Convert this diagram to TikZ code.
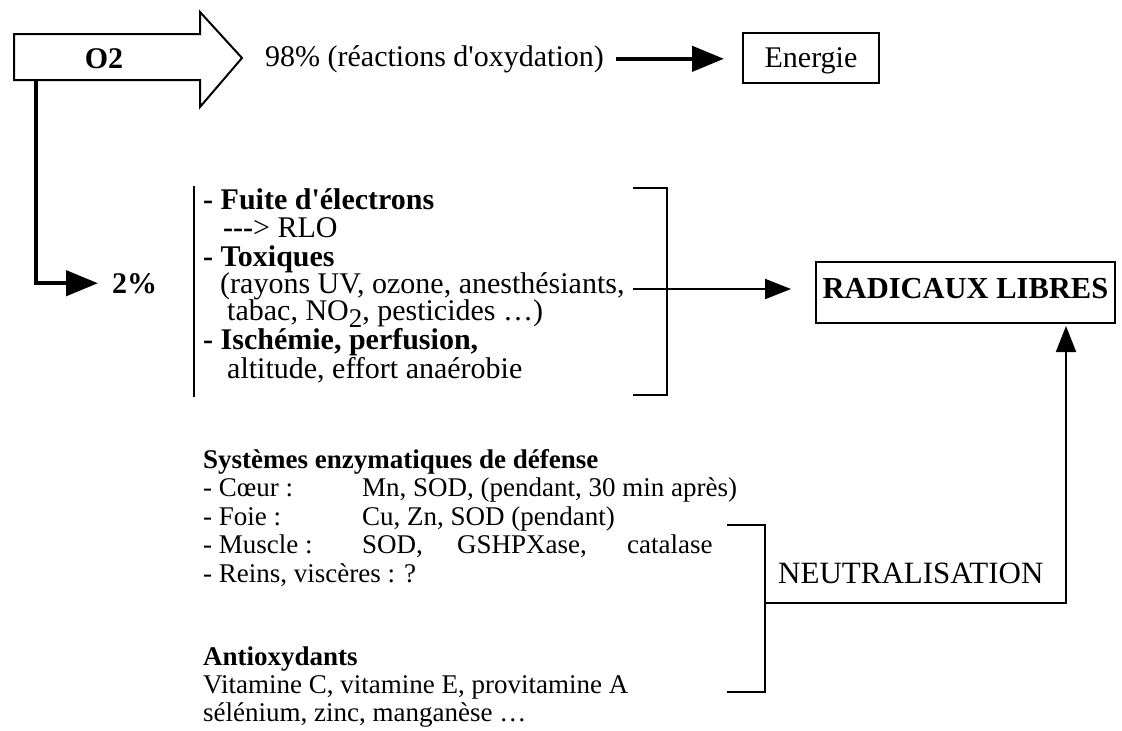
\documentclass[tikz,border=0pt]{standalone}
\usepackage{fontspec}
\setmainfont{Liberation Serif}
\newfontfamily\rawserif{Liberation Serif}
\newcommand\myfs[1]{\fontsize{#1}{#1}\selectfont\rawserif}
\usetikzlibrary{arrows.meta,calc}
\begin{document}
\begin{tikzpicture}[x=1pt,y=-1pt,
  txt/.style={inner sep=0pt,anchor=base west,font=\myfs{30}},
  btxt/.style={inner sep=0pt,anchor=base west,font=\myfs{30}\bfseries},
  stxt/.style={inner sep=0pt,anchor=base west,font=\myfs{27}},
  sbtxt/.style={inner sep=0pt,anchor=base west,font=\myfs{27}\bfseries},
  box/.style={draw,line width=2pt,inner sep=0pt,font=\myfs{30}},
  lightline/.style={line width=2pt},
  heavyline/.style={line width=4.5pt},
  bigtip/.style={-{Triangle[length=32pt,width=25pt]}},
  smalltip/.style={-{Triangle[length=26pt,width=20pt]}}
]
\useasboundingbox (0,0) rectangle (1122,731);

% O2 block arrow
\draw[lightline,line join=miter] (14,34) -- (200,34) -- (200,12) -- (242,58)
  -- (200,107) -- (200,80) -- (14,80) -- cycle;
\node[btxt,anchor=base] (o2) at (104,68) {O2};
\coordinate (o2b) at (36,80);

% 98% branch
\node[txt] (t98) at (265,66) {98\% (réactions d'oxydation)};
\node[box,minimum width=136pt,minimum height=50pt,text height=21pt,text depth=2pt] (en) at (811,58) {Energie};
\coordinate (a98) at ([xshift=12pt]t98.east);
\draw[heavyline,bigtip,shorten >=18pt] (a98) -- (a98 -| en.west);

% 2% branch
\node[btxt] (pct) at (112,293) {2\%};
\draw[heavyline,bigtip] (o2b) |- ([xshift=-14pt]pct.west);

% list of sources
\coordinate (bar1) at (194,186);
\coordinate (bar2) at (194,397);
\draw[lightline] (bar1) -- (bar2);
\node[btxt] (l1) at (203,209) {- Fuite d'électrons};
\node[txt] (l2) at (223,237) {{\bfseries ---}> RLO};
\node[btxt] (l3) at (203,266) {- Toxiques};
\node[txt] (l4) at (220,293) {(rayons UV, ozone, anesthésiants,};
\node[txt] (l5) at (227,320) {tabac, NO\raisebox{-7pt}{\myfs{27}2}, pesticides …)};
\node[btxt] (l6) at (203,349) {- Ischémie, perfusion,};
\node[txt] (l7) at (227,378) {altitude, effort anaérobie};

% right bracket of the list
\coordinate (b1a) at (633,188);
\coordinate (b1b) at (667,188);
\coordinate (b1c) at (667,395);
\coordinate (b1d) at (633,395);
\draw[lightline] (b1a) -- (b1b) -- (b1c) -- (b1d);

% radicaux libres
\node[box,font=\myfs{30.5}\bfseries,minimum width=299pt,minimum height=61pt,text height=20pt,text depth=9pt] (rad) at (965.5,292.5) {RADICAUX LIBRES};
\coordinate (rs) at ([xshift=8pt,yshift=4pt]l4.base east);
\draw[lightline,smalltip,shorten >=24pt] (rs) -- (rs -| rad.west);

% defence systems
\node[sbtxt] (s0) at (203,468) {Systèmes enzymatiques de défense};
\node[stxt] (s1) at (203,496) {- Cœur :};
\node[stxt] (s1b) at (362,496) {Mn, SOD, (pendant, 30 min après)};
\node[stxt] (s2) at (203,525) {- Foie :};
\node[stxt] (s2b) at (362,525) {Cu, Zn, SOD (pendant)};
\node[stxt] (s3) at (203,553) {- Muscle :};
\node[stxt] (s3b) at (362,553) {SOD,};
\node[stxt] (s3c) at (457,553) {GSHPXase,};
\node[stxt] (s3d) at (627,553) {catalase};
\node[stxt] (s4) at (203,582) {- Reins, viscères : ?};
\node[sbtxt] (a0) at (203,665) {Antioxydants};
\node[stxt] (a1) at (203,693) {Vitamine C, vitamine E, provitamine A};
\node[stxt] (a2) at (203,721) {sélénium, zinc, manganèse …};

% neutralisation bracket
\coordinate (b2a) at (727,525);
\coordinate (b2b) at (765,525);
\coordinate (b2c) at (765,692);
\coordinate (b2d) at (727,692);
\draw[lightline] (b2a) -- (b2b) -- (b2c) -- (b2d);
\coordinate (nm) at (765,603);
\draw[lightline,smalltip,shorten >=2pt] (nm) -| ([xshift=-50pt]rad.south east);
\node[txt,font=\myfs{31}] (neu) at (778,583) {NEUTRALISATION};
\end{tikzpicture}
\end{document}
